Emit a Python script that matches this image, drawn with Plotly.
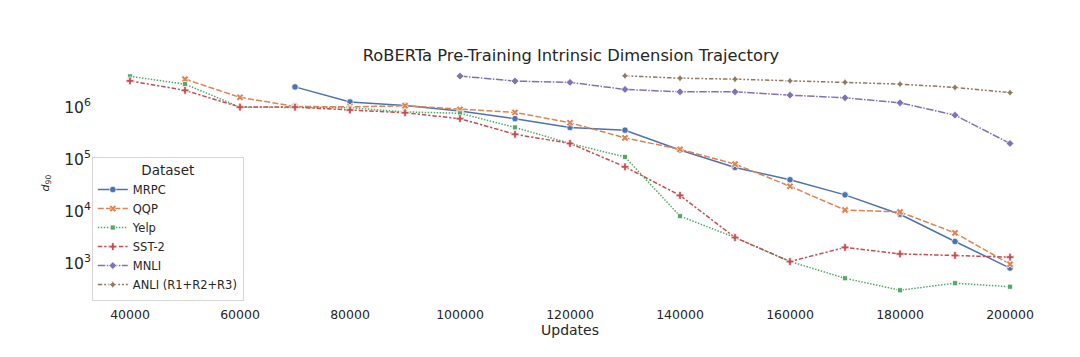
import plotly.graph_objects as go

updates = [40000, 50000, 60000, 70000, 80000, 90000, 100000, 110000, 120000,
           130000, 140000, 150000, 160000, 170000, 180000, 190000, 200000]

mrpc_x = updates[3:]
mrpc_y = [2.45e6, 1.26e6, 1.07e6, 8.4e5, 6.0e5, 4.07e5, 3.6e5, 1.5e5, 6.9e4,
          4.0e4, 2.05e4, 8.7e3, 2.6e3, 800]

qqp_x = updates[1:]
qqp_y = [3.45e6, 1.54e6, 1.03e6, 1.01e6, 1.06e6, 9.0e5, 7.9e5, 5.0e5, 2.56e5,
         1.54e5, 8.0e4, 3.0e4, 1.05e4, 9.6e3, 3.8e3, 950]

yelp_x = updates
yelp_y = [3.9e6, 2.77e6, 1.0e6, 1.0e6, 9.7e5, 8.1e5, 7.6e5, 4.07e5, 2.0e5,
          1.1e5, 8.0e3, 3.1e3, 1.07e3, 510, 300, 410, 350]

sst2_x = updates
sst2_y = [3.2e6, 2.1e6, 1.0e6, 1.0e6, 8.8e5, 7.8e5, 6.0e5, 3.0e5, 2.0e5,
          7.1e4, 2.0e4, 3.1e3, 1.07e3, 2.0e3, 1.5e3, 1.4e3, 1.3e3]

mnli_x = updates[6:]
mnli_y = [3.95e6, 3.17e6, 2.99e6, 2.19e6, 1.97e6, 1.97e6, 1.70e6, 1.51e6,
          1.21e6, 7.0e5, 2.0e5]

anli_x = updates[9:]
anli_y = [4.0e6, 3.6e6, 3.45e6, 3.2e6, 3.0e6, 2.77e6, 2.39e6, 1.9e6]

series = [
    ("MRPC", mrpc_x, mrpc_y, "#4C72B0", "solid", "circle", 6.5),
    ("QQP", qqp_x, qqp_y, "#DD8452", "6px,2.25px", "x", 6.5),
    ("Yelp", yelp_x, yelp_y, "#55A868", "1.5px,1.5px", "square", 5),
    ("SST-2", sst2_x, sst2_y, "#C44E52", "4.5px,1.9px,2.25px,1.9px", "cross", 6.5),
    ("MNLI", mnli_x, mnli_y, "#8172B3", "7.5px,1.5px,1.5px,1.5px", "diamond", 6),
    ("ANLI (R1+R2+R3)", anli_x, anli_y, "#937860",
     "4.5px,1.9px,1.9px,1.9px,1.9px,1.9px", "star-diamond", 6),
]

fig = go.Figure()
for name, xs, ys, color, dash, sym, size in series:
    fig.add_trace(go.Scatter(
        x=xs, y=ys, name=name, mode="lines+markers",
        line=dict(color=color, width=1.5, dash=dash),
        marker=dict(symbol=sym, size=size, color=color,
                    line=dict(color="white", width=0.75)),
    ))

font_family = "DejaVu Sans"
txt = "#262626"
W, H = 1072, 349  # page body has an 8px margin

fig.update_layout(
    width=W, height=H,
    margin=dict(l=78, r=26, t=57, b=56, autoexpand=False),
    plot_bgcolor="white", paper_bgcolor="white",
    font=dict(family=font_family, color=txt, size=12),
    title=dict(text="RoBERTa Pre-Training Intrinsic Dimension Trajectory",
               x=563 / W, xanchor="center", y=1 - 47 / H, yanchor="middle",
               font=dict(size=16.3, color=txt)),
    xaxis=dict(range=[32000, 208000], tickvals=updates[::2], tickformat="d",
               showgrid=False, zeroline=False, showline=False, automargin=False,
               ticks="", ticklabelstandoff=4, tickfont=dict(size=12.5),
               title=dict(text="Updates", font=dict(size=14), standoff=4)),
    yaxis=dict(type="log", range=[2.27, 6.81], dtick=1, exponentformat="power",
               showgrid=False, zeroline=False, showline=False, automargin=False,
               ticks="", ticklabelstandoff=-6, tickfont=dict(size=12.5),
               title=dict(text="<i>d</i><sub>90</sub>", font=dict(size=11),
                          standoff=12)),
    legend=dict(x=0.006, y=0.002, xanchor="left", yanchor="bottom",
                bgcolor="rgba(255,255,255,0.8)", bordercolor="#d6d6d6",
                borderwidth=1, font=dict(size=11.5),
                title=dict(text="Dataset", side="top center",
                           font=dict(size=13.5)),
                itemwidth=30, tracegroupgap=0),
    showlegend=True,
)

fig.write_html("out.html")
